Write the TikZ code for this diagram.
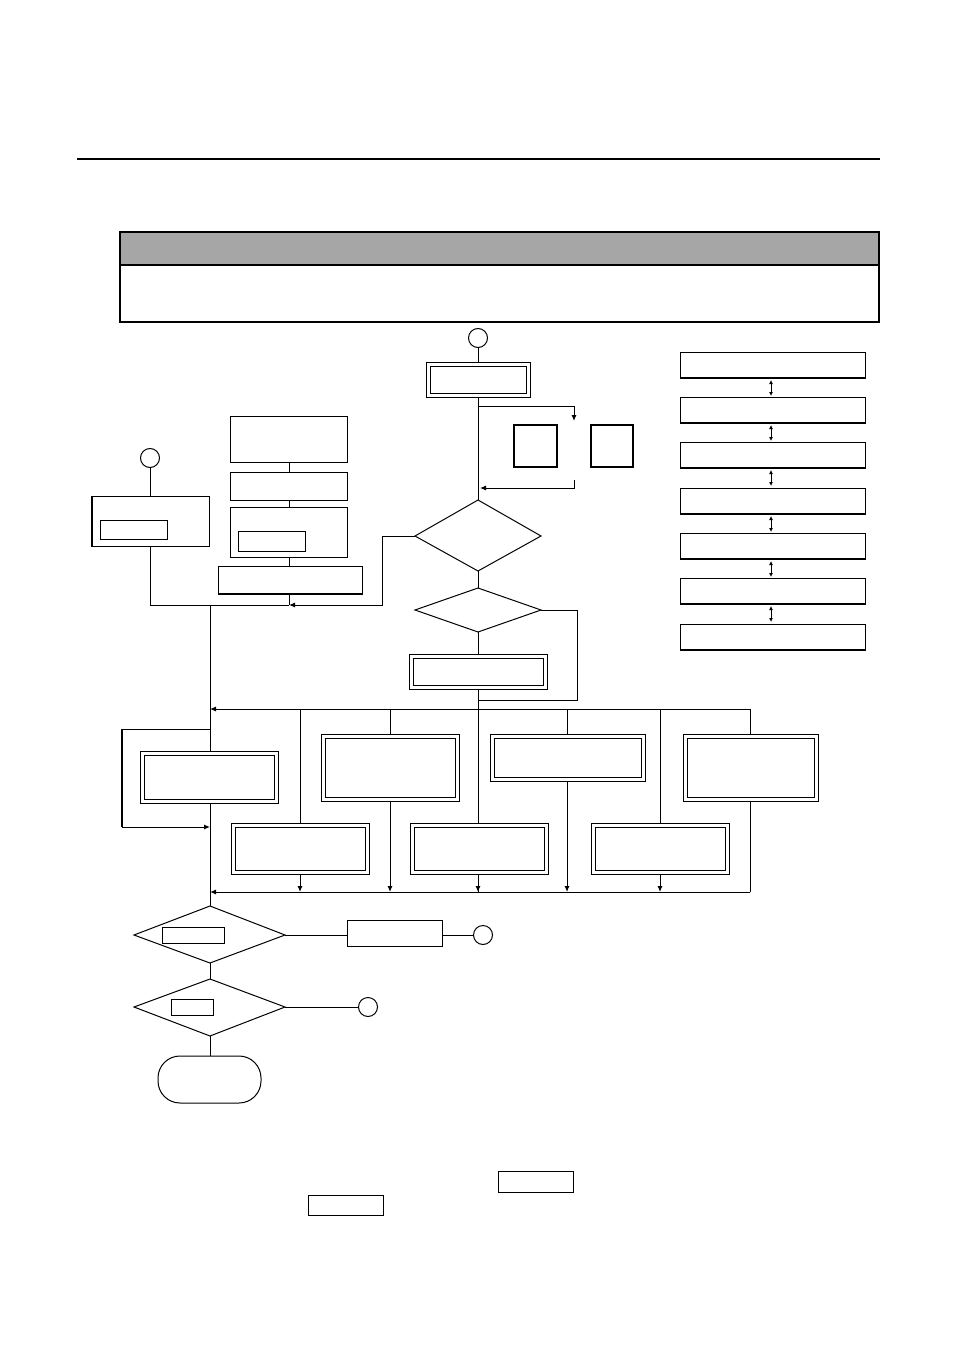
\documentclass[tikz,border=0pt]{standalone}
\usetikzlibrary{arrows.meta}
\begin{document}
\begin{tikzpicture}[x=1pt,y=-1pt,line width=1pt,
  arr/.style={-{Latex[length=6pt,width=5pt]}},
  dbl/.style={draw,double,double distance=2.5pt,fill=white},
  thk/.style={draw,line width=2.2pt}]
\useasboundingbox (0,0) rectangle (954,1348);
\draw[line width=2.5pt] (77,159) -- (880,159);
\fill[gray!70] (120,232) rectangle (879,265);
\draw[line width=2.5pt] (120,232) rectangle (879,322) (120,265) -- (879,265);
% top chain
\node[circle,draw,minimum size=19pt,inner sep=0] (c1) at (478,338) {};
\draw[dbl] (428.5,364.5) rectangle (528.5,395.5);
\coordinate (b1) at (478,397);
\draw (c1) -- (478,363);
\draw (b1) -- (478,500);
\draw[arr] (478,406) -- (574,406) -- (574,421);
\draw[thk] (514,425) rectangle (557,467);
\draw[thk] (591,425) rectangle (633,467);
\draw[arr] (574,480) -- (574,488) -- (480,488);
\draw (478,500) -- (541,536) -- (478,571) -- (415,536) -- cycle;
\draw[arr] (415,536) -- (382,536) -- (382,605) -- (289,605);
\draw (478,571) -- (478,588);
\draw (478,588) -- (541,610) -- (478,632) -- (415,610) -- cycle;
\draw (541,610) -- (577,610) -- (577,700) -- (478,700);
\draw (478,632) -- (478,655);
\draw (478,689) -- (478,892);
\draw[dbl] (411.5,656.5) rectangle (545.5,687.5);
% left
\node[circle,draw,minimum size=19pt,inner sep=0] (c2) at (150,458) {};
\draw (c2) -- (150,496);
\draw (91,496) rectangle (209,546);
\draw[line width=2pt] (92,496) -- (92,546);
\draw (100,520) rectangle (167,539);
\draw (150,546) -- (150,605) -- (289,605);
% middle stack
\draw (230,416) rectangle (347,462);
\draw (230,472) rectangle (347,500);
\draw (230,507) rectangle (347,557);
\draw (238,531) rectangle (305,551);
\draw (218,566) rectangle (362,594);
\draw[line width=1.6pt] (218,594) -- (362,594);
\draw (289,462) -- (289,472) (289,500) -- (289,507) (289,557) -- (289,566) (289,594) -- (289,605);
% right stack
\foreach \y in {352,397,442,488,533,578,624}{\draw (680,\y) rectangle (865,\y+26); \draw[line width=1.6pt] (680,\y+26) -- (865,\y+26);}
\foreach \y in {378,423,468,514,559,604}{\draw[{Latex[length=4pt,width=4pt]}-{Latex[length=4pt,width=4pt]}] (771,\y+2) -- (771,\y+18);}
% main bus
\draw (210,605) -- (210,906);
\draw[arr] (750,709) -- (210,709);
\draw (750,709) -- (750,735) (750,801) -- (750,892);
\draw[arr] (750,892) -- (210,892);
\draw[arr] (210,729) -- (122,729) -- (122,827) -- (210,827);
\draw[line width=2pt] (122,729) -- (122,827);
\draw[dbl,line width=1.2pt] (142.5,753.5) rectangle (276.5,801.5);
\draw (300,709) -- (300,824); \draw[arr] (300,874) -- (300,892);
\draw (390,709) -- (390,735); \draw[arr] (390,801) -- (390,892);
\draw[arr] (478,874) -- (478,892);
\draw (567,709) -- (567,735); \draw[arr] (567,781) -- (567,892);
\draw (660,709) -- (660,824); \draw[arr] (660,874) -- (660,892);
\draw[dbl] (323.5,736.5) rectangle (457.5,799.5);
\draw[dbl] (492.5,736.5) rectangle (643.5,779.5);
\draw[dbl] (685.5,736.5) rectangle (816.5,799.5);
\draw[dbl] (233.5,825.5) rectangle (367.5,872.5);
\draw[dbl] (412.5,825.5) rectangle (546.5,872.5);
\draw[dbl] (593.5,825.5) rectangle (727.5,872.5);
% bottom
\draw (210,906) -- (285,935) -- (210,963) -- (134,935) -- cycle;
\draw (162,927) rectangle (224,943);
\draw (285,935) -- (347,935);
\draw (347,920) rectangle (442,946);
\node[circle,draw,minimum size=19pt,inner sep=0] (c3) at (483,935) {};
\draw (442,935) -- (c3);
\draw (210,963) -- (210,979);
\draw (210,979) -- (285,1007) -- (210,1036) -- (134,1007) -- cycle;
\draw (171,999) rectangle (213,1015);
\node[circle,draw,minimum size=19pt,inner sep=0] (c4) at (368,1007) {};
\draw (285,1007) -- (c4);
\draw (210,1036) -- (210,1056);
\draw[rounded corners=22pt] (158,1056) rectangle (261,1103);
\draw (498,1171) rectangle (573,1192);
\draw (308,1195) rectangle (383,1215);
\end{tikzpicture}
\end{document}
